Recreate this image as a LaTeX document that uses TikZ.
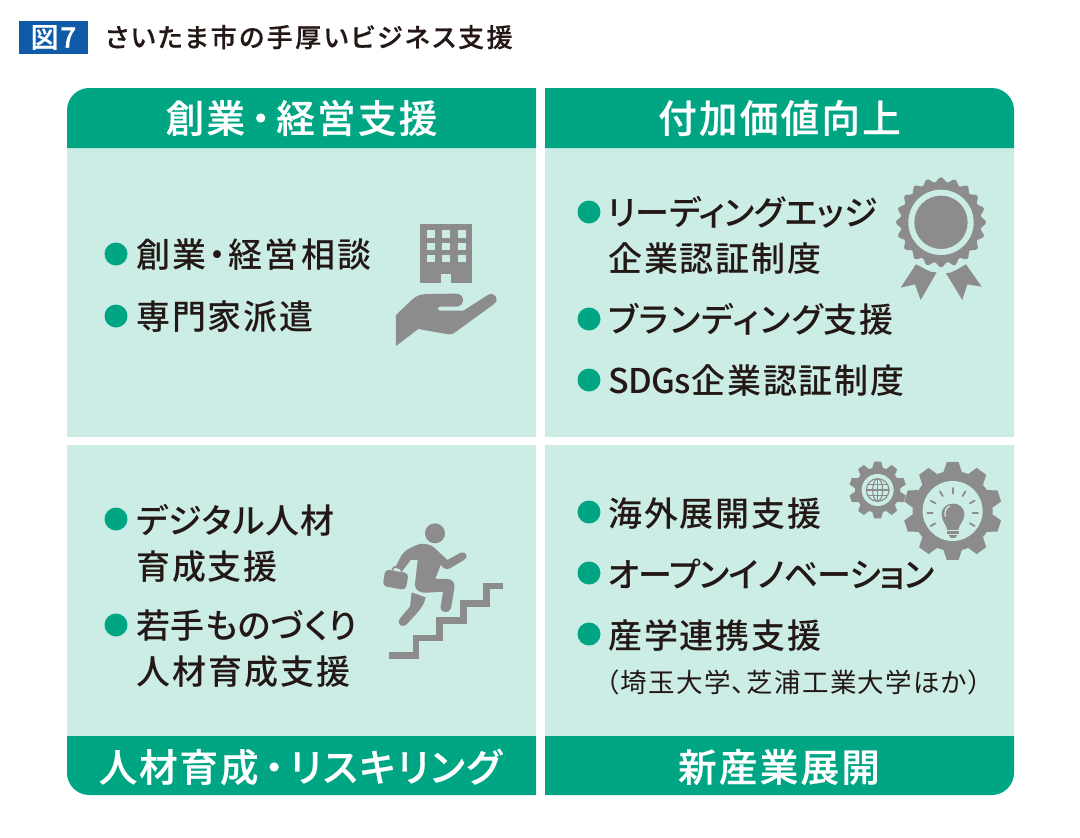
\documentclass[tikz,border=0pt]{standalone}
\usepackage{fontspec}
\setmainfont{Noto Sans CJK JP}[RawFeature=+palt]
\newfontfamily\bodyf{Noto Sans CJK JP Medium}[RawFeature=+palt]
\newfontfamily\headf{Noto Sans CJK JP Medium}[RawFeature=+palt,FakeBold=0.5]
\newcommand{\ls}[1]{\addfontfeature{LetterSpace=#1}}
\definecolor{teal1}{HTML}{00A584}
\definecolor{pale}{HTML}{CBEDE5}
\definecolor{ink}{HTML}{231815}
\definecolor{icon}{HTML}{8C8C8C}
\definecolor{tagblue}{HTML}{0F5BA8}
\tikzset{
  bodytext/.style={anchor=base west,inner sep=0pt,text=ink,font=\bodyf\fontsize{34}{40}\selectfont},
  smalltext/.style={anchor=base west,inner sep=0pt,text=ink,font=\fontsize{26.5}{30}\selectfont},
  headtext/.style={anchor=center,inner sep=0pt,text=white,font=\headf\fontsize{38.5}{44}\selectfont},
  titletext/.style={anchor=base west,inner sep=0pt,text=ink,font=\headf\fontsize{26}{30}\selectfont},
  tagtext/.style={anchor=center,inner sep=0pt,text=white,font=\headf\fontsize{28}{32}\selectfont},
  bullet/.style={circle,fill=teal1,draw=none,minimum size=23pt,inner sep=0pt},
  zoomed/.style={x=0.33333pt,y=-0.33333pt},
  iconline/.style={draw=icon,line cap=round,line join=round},
}
\newcommand{\gearshape}[5]{% cx cy outer body teeth-halfwidth
  \foreach \a in {0,36,...,324}{
    \fill[icon,rotate around={\a:(#1,#2)}] (#1-#5*1.25,#2-#4+3) -- (#1-#5*0.8,#2-#3) -- (#1+#5*0.8,#2-#3) -- (#1+#5*1.25,#2-#4+3) -- cycle;
  }
  \fill[icon] (#1,#2) circle[radius=#4];
}
\begin{document}
\begin{tikzpicture}[x=1pt,y=-1pt]
\useasboundingbox (0,0) rectangle (1080,838);
\fill[white] (0,0) rectangle (1080,838);

% title
\fill[tagblue] (19,21) rectangle (88,54);
\node[tagtext] (tag) at (53.5,37.5) {\ls{6}図7};
\node[titletext] (title) at (105,47) {\ls{9.5}さいたま市の手厚いビジネス支援};

% panels
\fill[pale] (67,148) rectangle (536,437);
\fill[pale] (545,148) rectangle (1014,437);
\fill[pale] (67,445) rectangle (536,736);
\fill[pale] (545,445) rectangle (1014,736);
\fill[teal1] (67,148) -- (67,110) .. controls (67,98) and (77,88) .. (89,88) -- (536,88) -- (536,148) -- cycle;
\fill[teal1] (545,148) -- (545,88) -- (992,88) .. controls (1004,88) and (1014,98) .. (1014,110) -- (1014,148) -- cycle;
\fill[teal1] (67,736) -- (67,773) .. controls (67,785) and (77,795) .. (89,795) -- (536,795) -- (536,736) -- cycle;
\fill[teal1] (545,736) -- (545,795) -- (992,795) .. controls (1004,795) and (1014,785) .. (1014,773) -- (1014,736) -- cycle;

\node[headtext] (h1) at (301.5,118) {\ls{6}創業\hspace{6pt}・\hspace{6pt}経営支援};
\node[headtext] (h2) at (779.5,118) {\ls{6}付加価値向上};
\node[headtext] (h3) at (300,767) {\ls{5}人材育成\hspace{6pt}・\hspace{6pt}{\ls{4.5}リスキリング}};
\node[headtext] (h4) at (779,767) {\ls{6}新産業展開};

% bullets
\foreach \n/\x/\y in {a/116/254,b/116/316,c/589/212,d/589/319,e/589/380,f/116/519,g/116/625,h/589/512,i/589/573,j/589/634}
  \node[bullet] (bul\n) at (\x,\y) {};

% texts
\node[bodytext] (t1) at (136,267) {\ls{7}創業・経営相談};
\node[bodytext] (t2) at (136,329) {\ls{5.5}専門家派遣};
\node[bodytext] (t3) at (608,225) {\ls{-0.6}リーディングエッジ};
\node[bodytext] (t4) at (608,271) {\ls{5.5}企業認証制度};
\node[bodytext] (t5) at (608,332) {\ls{4}ブランディング支援};
\node[bodytext] (t6) at (608,393) {{\ls{-1.5}SDGs}\ls{5.5}企業認証制度};
\node[bodytext] (t7) at (136,533) {\ls{2.5}デジタル人材};
\node[bodytext] (t8) at (136,579) {\ls{5.5}育成支援};
\node[bodytext] (t9) at (136,638) {\ls{1.7}若手ものづくり};
\node[bodytext] (t10) at (136,684) {\ls{6}人材育成支援};
\node[bodytext] (t11) at (608,526) {\ls{5.5}海外展開支援};
\node[bodytext] (t12) at (608,587) {\ls{-2.5}オープンイノベーション};
\node[bodytext] (t13) at (608,648) {\ls{5.5}産学連携支援};
\node[smalltext] (t14) at (606,692) {\ls{5}（埼玉大学、芝浦工業大学ほか）};

% building + hand
\begin{scope}[zoomed,shift={(1140,600)}]
  \fill[icon] (120,72) rectangle (276,248);
  \foreach \cx in {152,199,245}\foreach \cy in {102,139,176}
    \fill[pale] (\cx-12,\cy-11) rectangle (\cx+12,\cy+11);
  \fill[pale] (184,222) rectangle (214,248);
  \fill[icon] (48,345) -- (95,300) .. controls (110,287) and (120,283) .. (140,282) -- (228,281)
    .. controls (256,281) and (256,320) .. (228,320) -- (180,320)
    .. controls (172,320) and (172,332) .. (180,332) -- (250,332) -- (322,286)
    .. controls (342,272) and (362,298) .. (342,312) -- (228,395)
    .. controls (220,402) and (214,404) .. (205,403) -- (115,387) -- (48,438) -- cycle;
\end{scope}

% rosette
\begin{scope}[zoomed,shift={(2640,495)}]
  \fill[icon,smooth,samples=161,domain=0:360] plot ({183+(128+7*cos(20*\x))*cos(\x)},{172+(128+7*cos(20*\x))*sin(\x)}) -- cycle;
  \fill[pale] (183,172) circle[radius=98];
  \fill[icon] (183,172) circle[radius=80];
  \fill[icon] (108,298) -- (62,368) -- (105,358) -- (122,405) -- (170,322) .. controls (150,325) and (135,310) .. (108,298) -- cycle;
  \fill[icon] (258,298) -- (305,365) -- (262,358) -- (247,405) -- (198,325) .. controls (218,325) and (235,310) .. (258,298) -- cycle;
\end{scope}

% climbing figure
\begin{scope}[zoomed,shift={(1110,1530)}]
  \fill[icon] (195,70) circle[radius=30];
  \draw[icon,line width=6.5pt,miter limit=10] (57,436) -- (138,436) -- (138,384) -- (208,384) -- (208,332) -- (280,332) -- (280,280) -- (350,280) -- (350,228) -- (400,228);
  \fill[icon] (150,102) .. controls (170,100) and (185,105) .. (195,115) -- (232,150) -- (272,128)
    .. controls (288,122) and (298,142) .. (282,150) -- (240,175)
    .. controls (228,180) and (220,175) .. (212,165) -- (196,207) -- (232,207)
    .. controls (248,207) and (255,220) .. (253,235) -- (243,295)
    .. controls (238,312) and (210,310) .. (212,290) -- (219,245) -- (170,248)
    .. controls (150,250) and (133,240) .. (135,222) -- (143,150) -- (122,150) -- (98,182) -- (76,172) -- (95,135)
    .. controls (105,120) and (130,108) .. (150,102) -- cycle;
  \fill[icon] (125,247) -- (167,262) .. controls (160,290) and (150,300) .. (108,345)
    .. controls (95,355) and (78,340) .. (90,325) -- (120,290) -- cycle;
  \fill[icon,rounded corners=4pt] (46,178) -- (116,190) -- (107,240) -- (38,228) -- cycle;
  \draw[icon,line width=1.5pt] (66,182) -- (72,171) -- (92,174) -- (96,188);
\end{scope}

% gears
\begin{scope}[zoomed,shift={(2520,1350)}]
  \gearshape{338}{183}{147}{120}{22}
  \fill[pale] (338,183) circle[radius=90];
  \foreach \a in {0,30,60,90,120,150,180,210,330}
    \draw[iconline,line width=1.8pt] ({338+60*cos(\a)},{190-60*sin(\a)}) -- ({338+76*cos(\a)},{190-76*sin(\a)});
  \fill[icon] (322,240) .. controls (318,220) and (305,215) .. (305,193)
     .. controls (305,150) and (373,150) .. (373,193)
     .. controls (373,215) and (358,220) .. (355,240) -- cycle;
  \fill[icon] (322,244) rectangle (356,252);
  \fill[icon] (326,255) -- (352,255) -- (345,264) -- (333,264) -- cycle;
  \draw[pale,line width=1.3pt] (316,200) .. controls (312,185) and (318,172) .. (330,168);
  \gearshape{113}{120}{85}{68}{13}
  \fill[pale] (113,120) circle[radius=48];
  \draw[iconline,line width=1.1pt] (113,120) circle[radius=34];
  \draw[iconline,line width=1.1pt] (113,120) ellipse[x radius=15,y radius=34];
  \draw[iconline,line width=1.1pt] (113,86) -- (113,154) (79,120) -- (147,120) (84,103) -- (142,103) (84,137) -- (142,137);
\end{scope}
\end{tikzpicture}
\end{document}
